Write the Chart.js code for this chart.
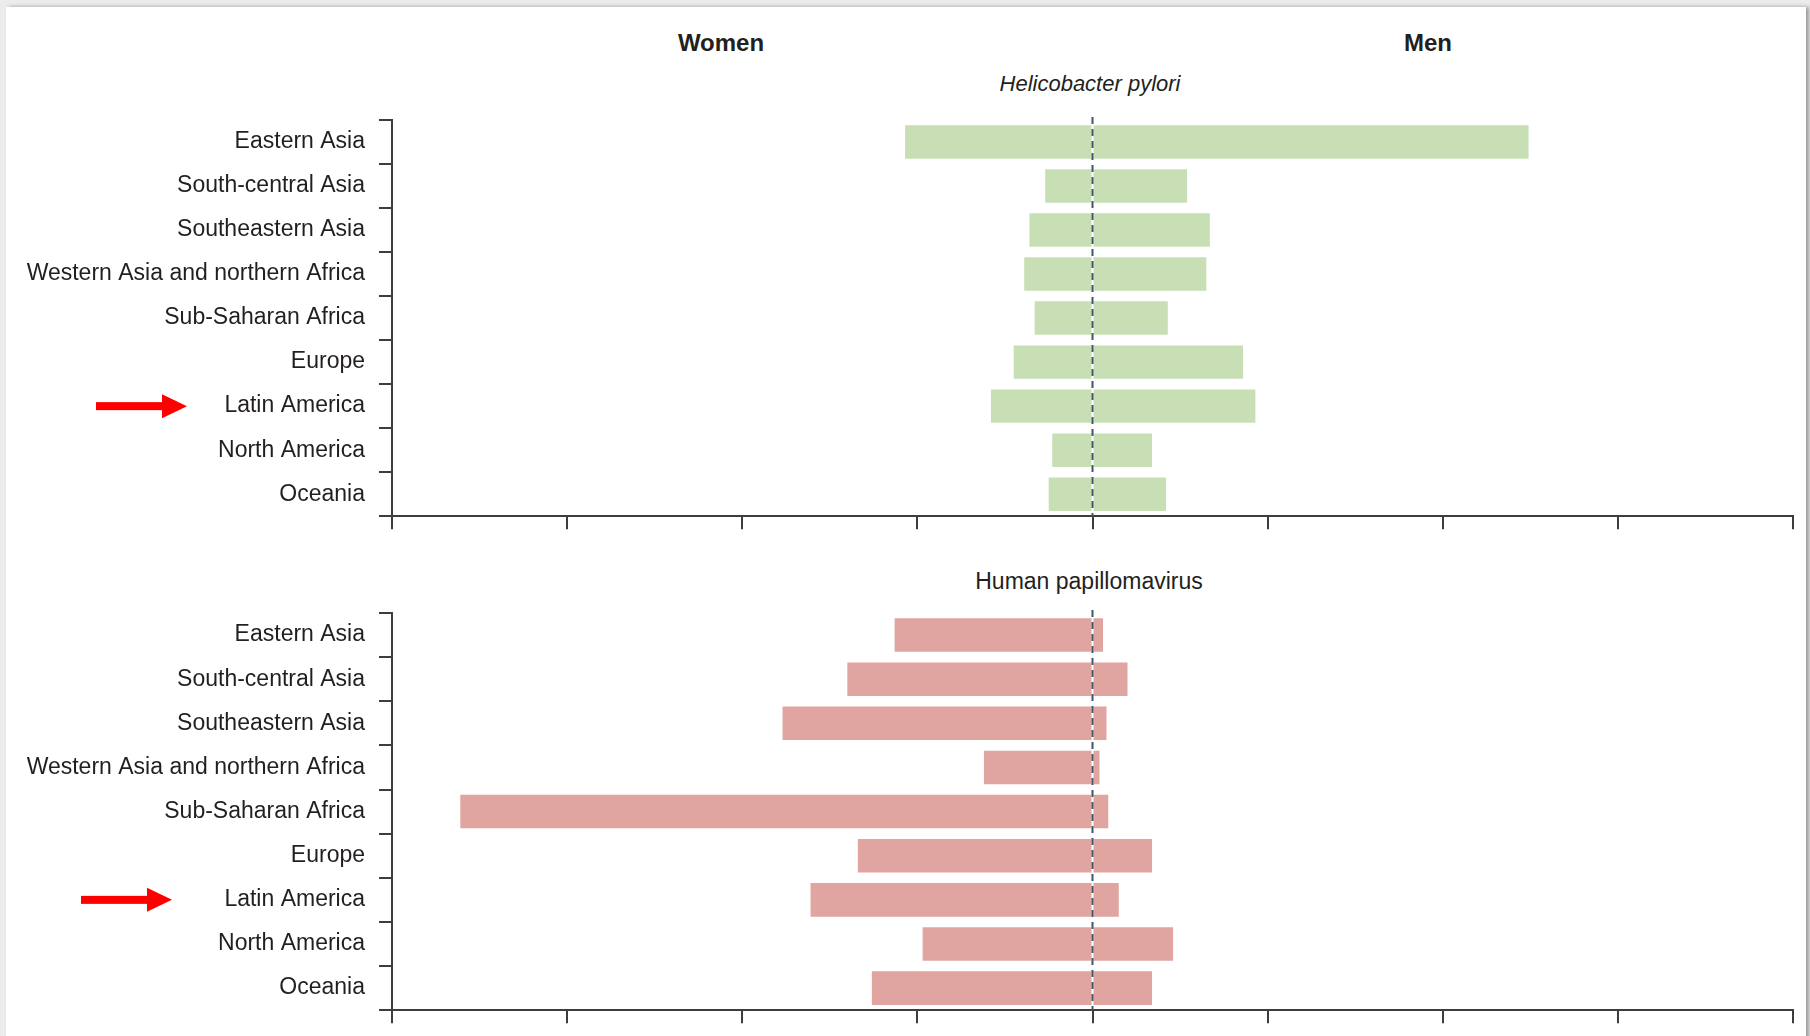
<!DOCTYPE html>
<html>
<head>
<meta charset="utf-8">
<script src="https://cdn.jsdelivr.net/npm/chart.js@4.4.0/dist/chart.umd.min.js"></script>
<style>
  html, body { margin: 0; padding: 0; background: #ececec; }
  body { width: 1810px; height: 1036px; position: relative; overflow: hidden; }
  #card { position: absolute; left: 6px; top: 7px; width: 1800px; height: 1040px; background: #fff;
          box-shadow: 3px 0 4px rgba(0,0,0,0.35); }
  .lbl { position: absolute; color: #231f20; font-family: "Liberation Sans", Arial, sans-serif;
         white-space: nowrap; transform: translate(-50%, -50%); }
  .head { font-weight: bold; font-size: 24px; }
  .sub { font-size: 23px; }
  .box { position: absolute; left: 0; width: 1810px; }
</style>
</head>
<body>
<div id="card"></div>
<div class="lbl head" style="left:721px; top:43px;">Women</div>
<div class="lbl head" style="left:1428px; top:43px;">Men</div>
<div class="lbl sub" style="left:1090px; top:84px; font-style:italic; font-size:22px;">Helicobacter pylori</div>
<div class="lbl sub" style="left:1089px; top:581px;">Human papillomavirus</div>
<div class="box" style="top:0; height:544px;"><canvas id="hp"></canvas></div>
<div class="box" style="top:520px; height:518px;"><canvas id="hpv"></canvas></div>
<script>
const regions = [
  "Eastern Asia",
  "South-central Asia",
  "Southeastern Asia",
  "Western Asia and northern Africa",
  "Sub-Saharan Africa",
  "Europe",
  "Latin America",
  "North America",
  "Oceania",
];

// values in axis units (one tick = 10)
const hpWomen = [10.7, 2.7, 3.6, 3.9, 3.3, 4.5, 5.8, 2.3, 2.5];
const hpMen = [24.9, 5.4, 6.7, 6.5, 4.3, 8.6, 9.3, 3.4, 4.2];

const hpvWomen = [11.3, 14.0, 17.7, 6.2, 36.1, 13.4, 16.1, 9.7, 12.6];
const hpvMen = [0.6, 2.0, 0.8, 0.4, 0.9, 3.4, 1.5, 4.6, 3.4];

const axisMin = -40;
const axisMax = 40;
const axisStep = 10;

const INK = "#3d3d3d";
const FONT = "'Liberation Sans', Arial, sans-serif";

const zeroLine = {
  id: "zeroLine",
  afterDatasetsDraw(chart) {
    const { ctx, chartArea, scales } = chart;
    const x = scales.x.getPixelForValue(0);
    ctx.save();
    ctx.strokeStyle = "#3f5868";
    ctx.lineWidth = 2;
    ctx.setLineDash([7, 5]);
    ctx.beginPath();
    ctx.moveTo(x, chartArea.top - 3);
    ctx.lineTo(x, chartArea.bottom);
    ctx.stroke();
    ctx.restore();
  },
};

const arrowMark = {
  id: "arrowMark",
  afterDraw(chart, args, opts) {
    if (!opts.label) return;
    const { ctx, scales } = chart;
    const y = scales.y.getPixelForValue(regions.indexOf(opts.label));
    const tail = opts.tipX - 91;
    const headLen = 25;
    ctx.save();
    ctx.fillStyle = "#ff0000";
    ctx.fillRect(tail, y - 4, 91 - headLen + 1, 8);
    ctx.beginPath();
    ctx.moveTo(opts.tipX - headLen, y - 12);
    ctx.lineTo(opts.tipX, y);
    ctx.lineTo(opts.tipX - headLen, y + 12);
    ctx.closePath();
    ctx.fill();
    ctx.restore();
  },
};

function makeChart(id, women, men, color, padTop, arrowTip) {
  return new Chart(document.getElementById(id), {
    type: "bar",
    data: {
      labels: regions,
      datasets: [
        { label: "Women", data: women.map((v) => -v), backgroundColor: color, borderWidth: 0 },
        { label: "Men", data: men, backgroundColor: color, borderWidth: 0 },
      ],
    },
    options: {
      indexAxis: "y",
      responsive: true,
      maintainAspectRatio: false,
      animation: false,
      layout: { padding: { top: padTop, bottom: 0, left: 0, right: 17 } },
      datasets: { bar: { barPercentage: 0.76, categoryPercentage: 1 } },
      scales: {
        x: {
          stacked: true,
          min: axisMin,
          max: axisMax,
          ticks: { display: false, stepSize: axisStep },
          grid: { drawOnChartArea: false, drawTicks: true, tickLength: 13, color: INK, lineWidth: 2 },
          border: { display: true, color: INK, width: 2 },
        },
        y: {
          stacked: true,
          afterFit: (scale) => { scale.width = 392; },
          ticks: { color: "#231f20", font: { family: FONT, size: 23 }, padding: 14 },
          grid: { offset: true, drawOnChartArea: false, drawTicks: true, tickLength: 13, color: INK, lineWidth: 2 },
          border: { display: true, color: INK, width: 2 },
        },
      },
      plugins: {
        legend: { display: false },
        tooltip: { enabled: false },
        arrowMark: { label: "Latin America", tipX: arrowTip },
      },
    },
    plugins: [zeroLine, arrowMark],
  });
}

makeChart("hp", hpWomen, hpMen, "#c8dfb5", 120, 187);
makeChart("hpv", hpvWomen, hpvMen, "#e0a5a0", 93, 172);
</script>
</body>
</html>
